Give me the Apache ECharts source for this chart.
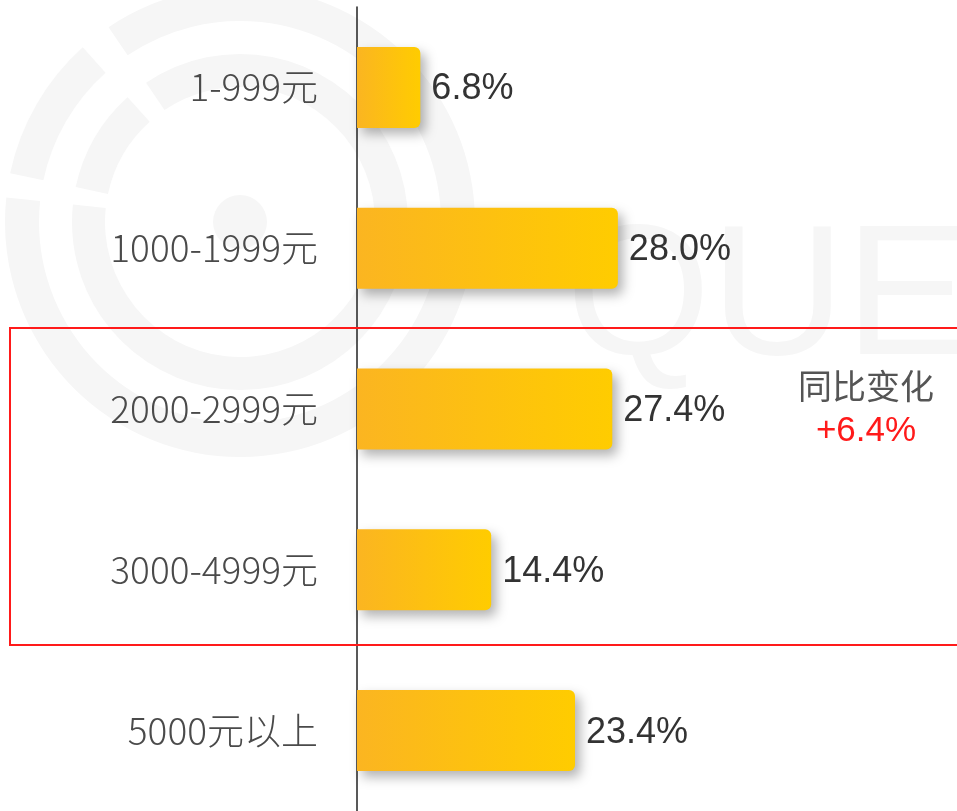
<!DOCTYPE html>
<html>
<head>
<meta charset="utf-8">
<script src="https://cdn.jsdelivr.net/npm/echarts@6/dist/echarts.min.js"></script>
<style>
  html, body { margin: 0; padding: 0; background: #fff; }
  #main { width: 957px; height: 811px; }
</style>
</head>
<body>
<div id="main"></div>
<script>
// price bands and share (%)
var categories = ['1-999元', '1000-1999元', '2000-2999元', '3000-4999元', '5000元以上'];
var shares = [6.8, 28.0, 27.4, 14.4, 23.4];
var noteTitle = '同比变化';
var noteValue = '+6.4%';

var chartDom = document.getElementById('main');
var myChart = echarts.init(chartDom);

function deg(d) { return d * Math.PI / 180; }

// faint watermark logo, rings + text
var wm = '#f6f6f6';
var cx = 240, cy = 222;
var watermark = [
    { type: 'sector', z: -10, shape: { cx: cx, cy: cy, r0: 201, r: 235, startAngle: deg(192), endAngle: deg(228), clockwise: true }, style: { fill: wm } },
    { type: 'sector', z: -10, shape: { cx: cx, cy: cy, r0: 201, r: 235, startAngle: deg(236), endAngle: deg(546), clockwise: true }, style: { fill: wm } },
    { type: 'sector', z: -10, shape: { cx: cx, cy: cy, r0: 135, r: 168, startAngle: deg(192), endAngle: deg(228), clockwise: true }, style: { fill: wm } },
    { type: 'sector', z: -10, shape: { cx: cx, cy: cy, r0: 135, r: 168, startAngle: deg(236), endAngle: deg(546), clockwise: true }, style: { fill: wm } },
    { type: 'circle', z: -10, shape: { cx: cx, cy: cy, r: 27 }, style: { fill: wm } },
    { type: 'text', z: -10, x: 566, y: 303, style: { text: 'QUE', fill: wm, font: '186px "Liberation Sans", Arial', verticalAlign: 'middle' } }
];

var option = {
    backgroundColor: '#fff',
    animation: false,
    grid: { left: 357, right: 0, top: 7, bottom: -1, containLabel: false },
    xAxis: {
        type: 'value',
        min: 0,
        max: 64.4,
        show: false
    },
    yAxis: {
        type: 'category',
        inverse: true,
        data: categories,
        axisLine: { show: true, lineStyle: { color: '#222', width: 1.5 } },
        axisTick: { show: false },
        axisLabel: {
            margin: 39,
            fontSize: 37,
            color: '#4a4a4a',
            fontFamily: '"Noto Sans CJK SC", "Noto Sans", sans-serif',
            fontWeight: 300
        }
    },
    series: [{
        type: 'bar',
        data: shares,
        barWidth: 81,
        itemStyle: {
            borderRadius: [0, 6, 6, 0],
            color: new echarts.graphic.LinearGradient(0, 0, 1, 0, [
                { offset: 0, color: '#FBB521' },
                { offset: 1, color: '#FFCC00' }
            ]),
            shadowColor: 'rgba(0,0,0,0.3)',
            shadowBlur: 12,
            shadowOffsetX: 5,
            shadowOffsetY: 6
        },
        label: {
            show: true,
            position: 'right',
            distance: 11,
            offset: [0, 2],
            fontSize: 36,
            color: '#333',
            fontFamily: '"Liberation Sans", Arial, sans-serif',
            formatter: function (p) { return p.value.toFixed(1) + '%'; }
        }
    }],
    graphic: watermark.concat([
        {
            type: 'rect',
            z: 100,
            shape: { x: 10, y: 328, width: 960, height: 317 },
            style: { fill: 'none', stroke: '#ff1a1a', lineWidth: 2 }
        },
        {
            type: 'text',
            z: 100,
            x: 866, y: 386,
            style: {
                text: noteTitle, fill: '#555', align: 'center', verticalAlign: 'middle',
                font: '34px "Noto Sans CJK SC", sans-serif'
            }
        },
        {
            type: 'text',
            z: 100,
            x: 866, y: 431,
            style: {
                text: noteValue, fill: '#ff1a1a', align: 'center', verticalAlign: 'middle',
                font: '35px "Liberation Sans", Arial, sans-serif'
            }
        }
    ])
};

option && myChart.setOption(option);
</script>
</body>
</html>
